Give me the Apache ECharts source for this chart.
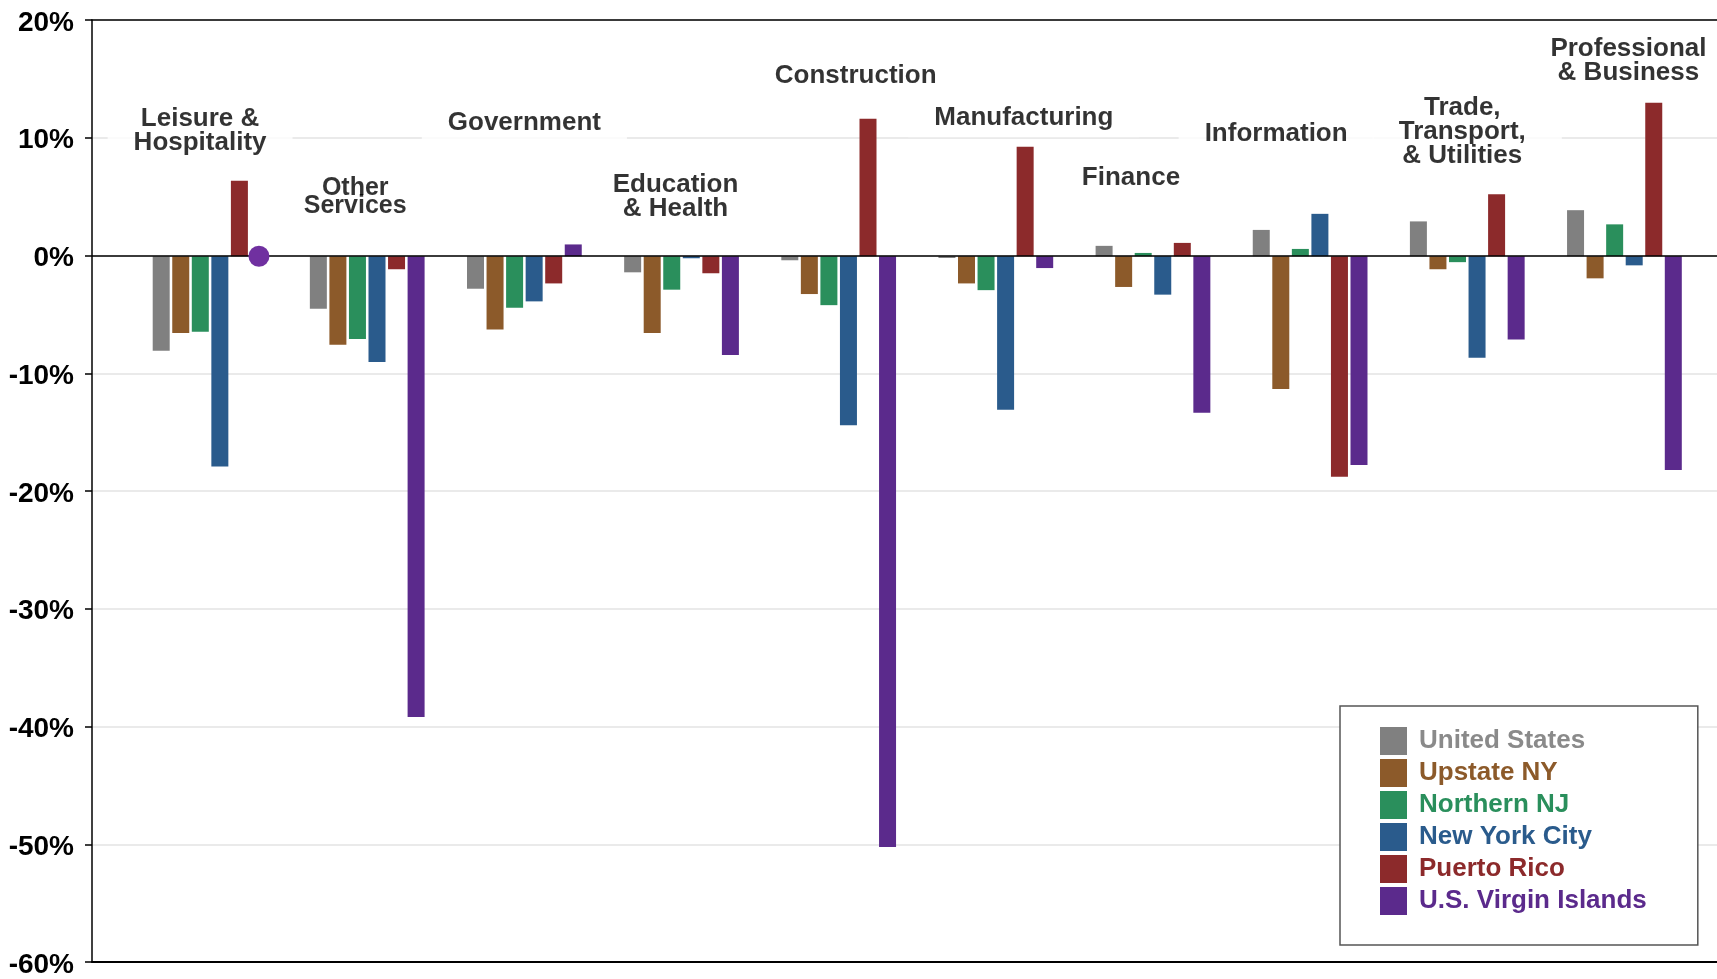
<!DOCTYPE html>
<html>
<head>
<meta charset="utf-8">
<script src="https://cdn.jsdelivr.net/npm/echarts@6/dist/echarts.min.js"></script>
<style>
html,body{margin:0;padding:0;background:#fff;}
#chart{width:1717px;height:979px;}
</style>
</head>
<body>
<div id="chart"></div>
<script>
// ---- Data ----
const categories = ['Leisure & Hospitality','Other Services','Government','Education & Health','Construction','Manufacturing','Finance','Information','Trade, Transport, & Utilities','Professional & Business'];
const categoryLabels = ['Leisure &\nHospitality','Other\nServices','Government','Education\n& Health','Construction','Manufacturing','Finance','Information','Trade,\nTransport,\n& Utilities','Professional\n& Business'];
const seriesNames = ['United States','Upstate NY','Northern NJ','New York City','Puerto Rico','U.S. Virgin Islands'];
const unitedStates = [-8.0, -4.45, -2.75, -1.36, -0.34, -0.15, 0.88, 2.23, 2.95, 3.9];
const upstateNY    = [-6.5, -7.5, -6.2, -6.5, -3.2, -2.3, -2.6, -11.24, -1.1, -1.87];
const northernNJ   = [-6.4, -7.0, -4.36, -2.83, -4.14, -2.87, 0.28, 0.62, -0.5, 2.7];
const newYorkCity  = [-17.8, -8.95, -3.82, -0.17, -14.3, -13.0, -3.25, 3.59, -8.6, -0.77];
const puertoRico   = [6.4, -1.1, -2.3, -1.44, 11.63, 9.27, 1.13, -18.67, 5.25, 13.0];
const virginIslands= [0, -39.0, 1.0, -8.36, -50.0, -1.0, -13.25, -17.68, -7.05, -18.1];
const yTicks = {min: -60, max: 20, interval: 10};

// ---- Layout / style (not data) ----
const colors = ['#808080','#8C5A2A','#2A8F5C','#2A5B8C','#8C2A2B','#5B2A8C'];
const legendTextColors = ['#8a8a8a','#8C5A2A','#2A8F5C','#2A5B8C','#8C2A2B','#5B2A8C'];
const labelAnchorY = [10.6, 5.0, 11.3, 5.0, 15.3, 11.68, 6.62, 10.36, 10.56, 16.55];
const labelOffsetX = [-10, -12, 0, -6, 17, 28, -22, -34, 0, 4];
const FONT = "'Liberation Sans', Arial, Helvetica, sans-serif";

const valuesList = [unitedStates, upstateNY, northernNJ, newYorkCity, puertoRico, virginIslands];

const barSeries = seriesNames.map((name, i) => {
  const s = {
    name: name,
    type: 'bar',
    xAxisIndex: 2,
    yAxisIndex: 1,
    data: valuesList[i],
    barWidth: 17,
    barGap: '15%',
    itemStyle: {color: colors[i]},
    emphasis: {disabled: true},
    z: 3
  };
  if (i === 5) {
    s.markPoint = {
      symbol: 'circle',
      symbolSize: 21,
      silent: true,
      itemStyle: {color: '#7030A0'},
      label: {show: false},
      data: [{coord: [0, virginIslands[0]]}]
    };
  }
  return s;
});

const labelSeries = {
  type: 'scatter',
  xAxisIndex: 2,
  yAxisIndex: 1,
  symbolSize: 0,
  silent: true,
  z: 4,
  data: categories.map((c, i) => {
    const multi = categoryLabels[i].indexOf('\n') >= 0;
    let lh = multi ? 24 : 26;
    let fs = 26;
    if (i === 1) { lh = 18; fs = 25; }
    let pad = [6, 26];
    if (i === 8) pad = [6, 36, 6, 26];
    return {
      value: [i, labelAnchorY[i]],
      label: {
        show: true,
        position: 'inside',
        offset: [labelOffsetX[i], 0],
        formatter: categoryLabels[i],
        color: '#000',
        fontFamily: FONT,
        fontWeight: 'bold',
        fontSize: fs,
        lineHeight: lh,
        align: 'center',
        verticalAlign: 'middle',
        backgroundColor: '#fff',
        padding: pad
      }
    };
  })
};

const frameSeries = {
  type: 'line',
  xAxisIndex: 0,
  yAxisIndex: 0,
  data: [],
  silent: true,
  symbol: 'none',
  z: 5,
  markLine: {
    silent: true,
    symbol: 'none',
    label: {show: false},
    lineStyle: {color: '#000', width: 1.5, type: 'solid'},
    data: [{yAxis: 0}]
  }
};

const option = {
  animation: false,
  backgroundColor: '#fff',
  textStyle: {fontFamily: FONT},
  grid: [
    {left: 92, right: 0, top: 20, bottom: 14},
    {left: 131.5, right: 14, top: 20, bottom: 14}
  ],
  xAxis: [
    {gridIndex: 0, type: 'value', min: 0, max: 1, position: 'bottom',
     axisLine: {show: true, onZero: false, lineStyle: {color: '#000', width: 2}},
     axisTick: {show: false}, axisLabel: {show: false}, splitLine: {show: false}},
    {gridIndex: 0, type: 'value', min: 0, max: 1, position: 'top',
     axisLine: {show: true, onZero: false, lineStyle: {color: '#000', width: 1.5}},
     axisTick: {show: false}, axisLabel: {show: false}, splitLine: {show: false}},
    {gridIndex: 1, type: 'category', data: categories, position: 'bottom',
     axisLine: {show: false}, axisTick: {show: false}, axisLabel: {show: false}, splitLine: {show: false}}
  ],
  yAxis: [
    {gridIndex: 0, type: 'value', min: yTicks.min, max: yTicks.max, interval: yTicks.interval,
     axisLine: {show: true, onZero: false, lineStyle: {color: '#000', width: 1.5}},
     axisTick: {show: true, length: 7, inside: false, lineStyle: {color: '#000', width: 1.5}},
     axisLabel: {
       formatter: function (v) { return '{a|' + v + '%}'; },
       color: '#000', fontSize: 28, fontWeight: 'bold', fontFamily: FONT, margin: 18,
       rich: {a: {color: '#000', fontSize: 28, fontWeight: 'bold', fontFamily: FONT, padding: [6, 0, 0, 0]}}
     },
     splitLine: {show: true, lineStyle: {color: '#e3e3e3', width: 1.5}}},
    {gridIndex: 1, type: 'value', min: yTicks.min, max: yTicks.max, interval: yTicks.interval,
     show: false, splitLine: {show: false}}
  ],
  legend: {
    orient: 'vertical',
    left: 1340,
    top: 706,
    padding: [21, 51, 30, 40],
    itemWidth: 27,
    itemHeight: 28,
    itemGap: 4,
    icon: 'rect',
    borderColor: '#555',
    borderWidth: 1.5,
    backgroundColor: '#fff',
    selectedMode: false,
    textStyle: {fontSize: 26, fontWeight: 'bold', fontFamily: FONT, lineHeight: 20, padding: [8, 0, 0, 7]},
    data: seriesNames.map((n, i) => ({name: n, textStyle: {color: legendTextColors[i]}}))
  },
  series: [frameSeries].concat(barSeries).concat([labelSeries])
};

const chart = echarts.init(document.getElementById('chart'), null, {renderer: 'canvas'});
chart.setOption(option);
</script>
</body>
</html>
